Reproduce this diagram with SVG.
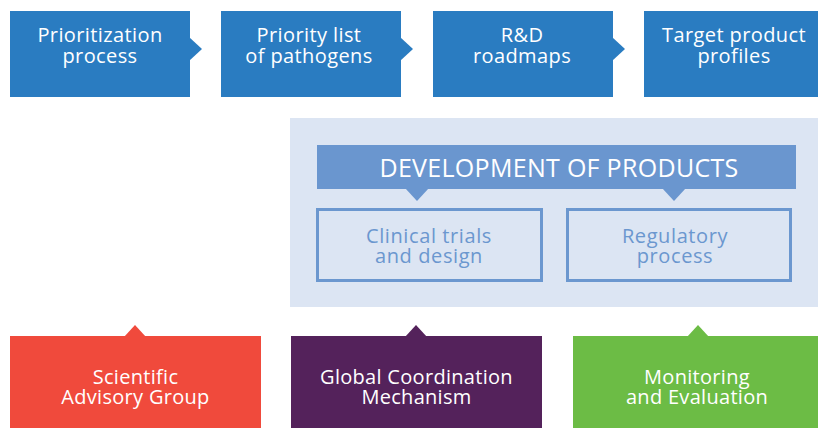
<svg xmlns="http://www.w3.org/2000/svg" width="818" height="428" viewBox="0 0 818 428">
<style>
text{font-family:"Open Sans","DejaVu Sans",sans-serif;text-anchor:middle}
.top{fill:#2a7cc1}
.tt{fill:#ffffff;font-size:20px;letter-spacing:0.4px}
.sub{fill:none;stroke:#6b97cf;stroke-width:3}
.st{fill:#6b97cf;font-size:20px;letter-spacing:0.6px}
.bt{fill:#ffffff;font-size:20px;letter-spacing:0.3px}
</style>
<rect x="0" y="0" width="818" height="428" fill="#ffffff"/>
<g id="panel">
<rect x="290" y="118" width="540" height="189" fill="#dce5f3"/>
</g>
<g id="connectors">
<polygon class="top" points="189,37 202,49 189,61"/>
<polygon class="top" points="400,37 413,49 400,61"/>
<polygon class="top" points="612,37 625,49 612,61"/>
<polygon fill="#6a96cf" points="405,188 417,201 429,188"/>
<polygon fill="#6a96cf" points="662,188 674,201 686,188"/>
<polygon fill="#f04a3c" points="124,337 135,325 146,337"/>
<polygon fill="#54225b" points="405,337 416,325 427,337"/>
<polygon fill="#6cbc45" points="687,337 698,325 709,337"/>
</g>
<g id="prioritization">
<rect class="top" x="10" y="11" width="180" height="86"/>
<text class="tt" x="100" y="42">Prioritization</text>
<text class="tt" x="100" y="63">process</text>
</g>
<g id="priority-list">
<rect class="top" x="221" y="11" width="180" height="86"/>
<text class="tt" x="309" y="42">Priority list</text>
<text class="tt" x="309" y="63">of pathogens</text>
</g>
<g id="roadmaps">
<rect class="top" x="433" y="11" width="180" height="86"/>
<text class="tt" x="522" y="42">R&amp;D</text>
<text class="tt" x="522" y="63">roadmaps</text>
</g>
<g id="tpp">
<rect class="top" x="644" y="11" width="180" height="86"/>
<text class="tt" x="734" y="42">Target product</text>
<text class="tt" x="734" y="63">profiles</text>
</g>
<g id="development">
<rect x="317" y="145" width="479" height="44" fill="#6a96cf"/>
<text x="559" y="177" fill="#ffffff" font-size="25px" letter-spacing="0.3">DEVELOPMENT OF PRODUCTS</text>
</g>
<g id="clinical">
<rect class="sub" x="317.5" y="209.5" width="224" height="71"/>
<text class="st" x="429" y="243">Clinical trials</text>
<text class="st" x="429" y="263">and design</text>
</g>
<g id="regulatory">
<rect class="sub" x="567.5" y="209.5" width="223" height="71"/>
<text class="st" x="675" y="243">Regulatory</text>
<text class="st" x="675" y="263">process</text>
</g>
<g id="sag">
<rect x="10" y="336" width="251" height="92" fill="#f04a3c"/>
<text class="bt" x="135.5" y="384">Scientific</text>
<text class="bt" x="135.5" y="404">Advisory Group</text>
</g>
<g id="gcm">
<rect x="291" y="336" width="251" height="92" fill="#54225b"/>
<text class="bt" x="416.5" y="384">Global Coordination</text>
<text class="bt" x="416.5" y="404">Mechanism</text>
</g>
<g id="me">
<rect x="573" y="336" width="251" height="92" fill="#6cbc45"/>
<text class="bt" x="697" y="384">Monitoring</text>
<text class="bt" x="697" y="404">and Evaluation</text>
</g>
</svg>
